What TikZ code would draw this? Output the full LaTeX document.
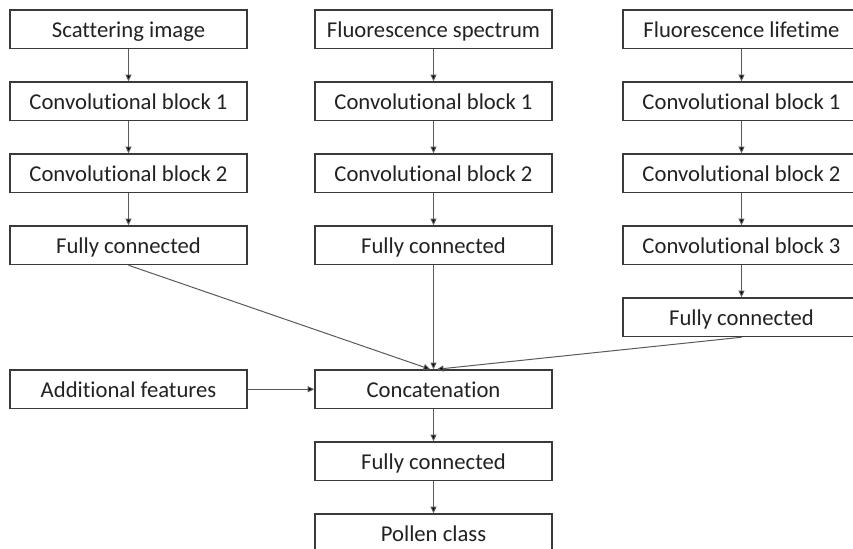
\documentclass[tikz,border=0pt]{standalone}
\usepackage{fontspec}
\setmainfont{Carlito}[Ligatures={NoCommon,NoRare,NoContextual}]
\usetikzlibrary{arrows.meta}
\definecolor{boxline}{HTML}{3A3A3A}
\definecolor{wire}{HTML}{5A5A5A}
\definecolor{ink}{HTML}{222222}
\begin{document}
\begin{tikzpicture}[x=0.75pt,y=-0.75pt,
  block/.style={draw=boxline, line width=1.1pt, fill=white,
    minimum width=177.75pt, minimum height=28.9pt, inner sep=0pt,
    text height=15pt, text depth=3pt,
    text=ink, font=\fontsize{17}{20}\selectfont},
  link/.style={draw=wire, line width=0.75pt,
    -{Triangle[length=5pt,width=4.5pt,fill=black]}}]
\useasboundingbox (0,0) rectangle (853,549);

% Scattering image branch
\node[block] (s0) at (128.5,29.25)  {Scattering image};
\node[block] (s1) at (128.5,101.25) {Convolutional block 1};
\node[block] (s2) at (128.5,173.25) {Convolutional block 2};
\node[block] (s3) at (128.5,245.25) {Fully connected};

% Fluorescence spectrum branch
\node[block] (p0) at (433.5,29.25)  {Fluorescence spectrum};
\node[block] (p1) at (433.5,101.25) {Convolutional block 1};
\node[block] (p2) at (433.5,173.25) {Convolutional block 2};
\node[block] (p3) at (433.5,245.25) {Fully connected};

% Fluorescence lifetime branch
\node[block] (l0) at (741.5,29.25)  {Fluorescence lifetime};
\node[block] (l1) at (741.5,101.25) {Convolutional block 1};
\node[block] (l2) at (741.5,173.25) {Convolutional block 2};
\node[block] (l3) at (741.5,245.25) {Convolutional block 3};
\node[block] (l4) at (741.5,317.25) {Fully connected};

% Merge and classifier head
\node[block] (extra)  at (128.5,389.25) {Additional features};
\node[block] (concat) at (433.5,389.25) {Concatenation};
\node[block] (head)   at (433.5,461.25) {Fully connected};
\node[block] (out)    at (433.5,533.25) {Pollen class};

% Branch connectors
\foreach \a/\b in {s0/s1,s1/s2,s2/s3,p0/p1,p1/p2,p2/p3,l0/l1,l1/l2,l2/l3,l3/l4}
  \draw[link] (\a.south) -- (\b.north);

% Into the concatenation
\draw[link] (s3.south) -- ([xshift=-2.5pt]concat.north);
\draw[link] (p3.south) -- (concat.north);
\draw[link] (l4.south) -- ([xshift=2.5pt]concat.north);
\draw[link] (extra.east) -- (concat.west);

% Classifier head
\draw[link] (concat.south) -- (head.north);
\draw[link] (head.south) -- (out.north);
\end{tikzpicture}
\end{document}
